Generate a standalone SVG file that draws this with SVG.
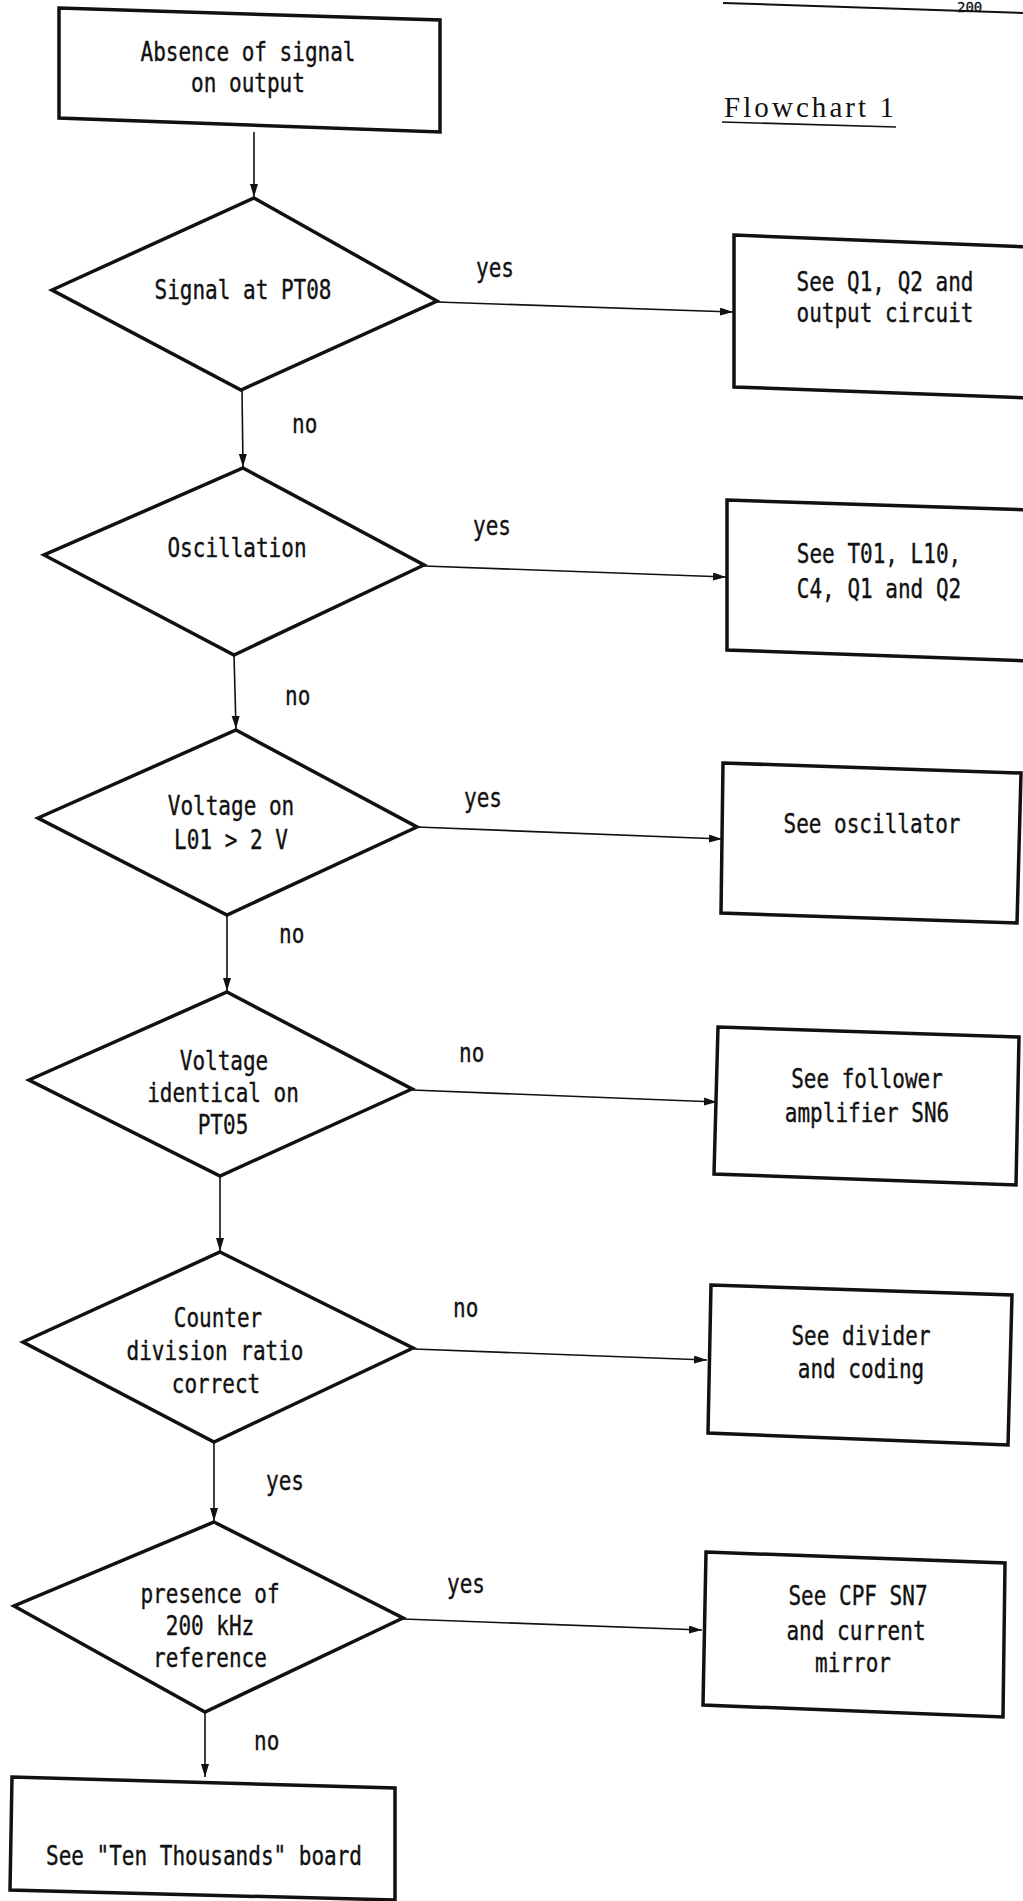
<svg xmlns="http://www.w3.org/2000/svg" width="1023" height="1901" viewBox="0 0 1023 1901">
<style>
.box{fill:none;stroke:#111;stroke-width:3.5;stroke-linejoin:miter}
.dia{fill:none;stroke:#111;stroke-width:3.5;stroke-linejoin:miter}
.con{fill:none;stroke:#111;stroke-width:1.6}
.t{font-family:"DejaVu Sans Mono","Liberation Mono",monospace;font-size:21px;fill:#111;stroke:#111;stroke-width:0.3;text-anchor:middle}
.lbl{font-family:"DejaVu Sans Mono","Liberation Mono",monospace;font-size:21px;fill:#111;stroke:#111;stroke-width:0.3}
.ttl{font-family:"Liberation Serif",serif;font-size:29px;fill:#111}
</style>
<defs>
<marker id="ah" markerUnits="userSpaceOnUse" markerWidth="14" markerHeight="10" refX="13" refY="4" orient="auto">
<path d="M0,0 L13,4 L0,8 z" fill="#111"/>
</marker>
</defs>
<rect width="1023" height="1901" fill="#fff"/>

<g id="header">
<line x1="723" y1="3" x2="1023" y2="13" stroke="#111" stroke-width="2"/>
<text class="lbl" x="957" y="12" style="font-size:14px">200</text>
</g>

<g id="title">
<text class="ttl" x="724" y="117" textLength="170" lengthAdjust="spacing">Flowchart 1</text>
<line x1="722" y1="122" x2="896" y2="127" stroke="#111" stroke-width="1.6"/>
</g>

<g id="connectors">
<line class="con" x1="254" y1="132" x2="254" y2="197" marker-end="url(#ah)"/>
<line class="con" x1="437" y1="302" x2="733" y2="312" marker-end="url(#ah)"/>
<line class="con" x1="242" y1="390" x2="243" y2="467" marker-end="url(#ah)"/>
<line class="con" x1="424" y1="566" x2="726" y2="577" marker-end="url(#ah)"/>
<line class="con" x1="234" y1="655" x2="236" y2="729" marker-end="url(#ah)"/>
<line class="con" x1="417" y1="827" x2="722" y2="839" marker-end="url(#ah)"/>
<line class="con" x1="227" y1="915" x2="227" y2="991" marker-end="url(#ah)"/>
<line class="con" x1="412" y1="1090" x2="717" y2="1102" marker-end="url(#ah)"/>
<line class="con" x1="220" y1="1176" x2="220" y2="1251" marker-end="url(#ah)"/>
<line class="con" x1="414" y1="1349" x2="707" y2="1360" marker-end="url(#ah)"/>
<line class="con" x1="214" y1="1442" x2="214" y2="1521" marker-end="url(#ah)"/>
<line class="con" x1="403" y1="1619" x2="702" y2="1630" marker-end="url(#ah)"/>
<line class="con" x1="205" y1="1712" x2="205" y2="1777" marker-end="url(#ah)"/>
<text class="lbl" transform="translate(476,277) scale(1,1.25)">yes</text>
<text class="lbl" transform="translate(292,433) scale(1,1.25)">no</text>
<text class="lbl" transform="translate(473,535) scale(1,1.25)">yes</text>
<text class="lbl" transform="translate(285,705) scale(1,1.25)">no</text>
<text class="lbl" transform="translate(464,807) scale(1,1.25)">yes</text>
<text class="lbl" transform="translate(279,943) scale(1,1.25)">no</text>
<text class="lbl" transform="translate(459,1062) scale(1,1.25)">no</text>
<text class="lbl" transform="translate(453,1317) scale(1,1.25)">no</text>
<text class="lbl" transform="translate(266,1490) scale(1,1.25)">yes</text>
<text class="lbl" transform="translate(447,1593) scale(1,1.25)">yes</text>
<text class="lbl" transform="translate(254,1750) scale(1,1.25)">no</text>
</g>

<g id="start">
<polygon class="box" points="59,8 440,20 440,132 59,118"/>
<text class="t" transform="translate(248,61) scale(1,1.25)">Absence of signal</text>
<text class="t" transform="translate(248,92) scale(1,1.25)">on output</text>
</g>

<g id="d1">
<polygon class="dia" points="254,198 437,301 241,390 52,290"/>
<text class="t" transform="translate(243,299) scale(1,1.25)">Signal at PT08</text>
</g>
<g id="b1">
<polygon class="box" points="734,235 1030,247 1030,398 734,387"/>
<text class="t" transform="translate(885,291) scale(1,1.25)">See Q1, Q2 and</text>
<text class="t" transform="translate(885,322) scale(1,1.25)">output circuit</text>
</g>

<g id="d2">
<polygon class="dia" points="243,468 424,565 234,655 44,555"/>
<text class="t" transform="translate(237,557) scale(1,1.25)">Oscillation</text>
</g>
<g id="b2">
<polygon class="box" points="727,500 1030,510 1030,661 727,650"/>
<text class="t" transform="translate(879,563) scale(1,1.25)">See T01, L10,</text>
<text class="t" transform="translate(879,598) scale(1,1.25)">C4, Q1 and Q2</text>
</g>

<g id="d3">
<polygon class="dia" points="236,730 417,827 227,915 38,818"/>
<text class="t" transform="translate(231,815) scale(1,1.25)">Voltage on</text>
<text class="t" transform="translate(231,849) scale(1,1.25)">L01 &gt; 2 V</text>
</g>
<g id="b3">
<polygon class="box" points="723,763 1021,773 1017,923 721,913"/>
<text class="t" transform="translate(872,833) scale(1,1.25)">See oscillator</text>
</g>

<g id="d4">
<polygon class="dia" points="227,992 412,1089 220,1176 29,1080"/>
<text class="t" transform="translate(224,1070) scale(1,1.25)">Voltage</text>
<text class="t" transform="translate(223,1102) scale(1,1.25)">identical on</text>
<text class="t" transform="translate(223,1134) scale(1,1.25)">PT05</text>
</g>
<g id="b4">
<polygon class="box" points="718,1027 1019,1037 1016,1185 714,1174"/>
<text class="t" transform="translate(867,1088) scale(1,1.25)">See follower</text>
<text class="t" transform="translate(867,1122) scale(1,1.25)">amplifier SN6</text>
</g>

<g id="d5">
<polygon class="dia" points="220,1252 413,1348 214,1442 23,1342"/>
<text class="t" transform="translate(218,1327) scale(1,1.25)">Counter</text>
<text class="t" transform="translate(215,1360) scale(1,1.25)">division ratio</text>
<text class="t" transform="translate(216,1393) scale(1,1.25)">correct</text>
</g>
<g id="b5">
<polygon class="box" points="711,1285 1012,1295 1008,1445 708,1433"/>
<text class="t" transform="translate(861,1345) scale(1,1.25)">See divider</text>
<text class="t" transform="translate(861,1378) scale(1,1.25)">and coding</text>
</g>

<g id="d6">
<polygon class="dia" points="214,1522 403,1618 205,1712 14,1606"/>
<text class="t" transform="translate(210,1603) scale(1,1.25)">presence of</text>
<text class="t" transform="translate(210,1635) scale(1,1.25)">200 kHz</text>
<text class="t" transform="translate(210,1667) scale(1,1.25)">reference</text>
</g>
<g id="b6">
<polygon class="box" points="706,1552 1005,1563 1003,1717 703,1705"/>
<text class="t" transform="translate(858,1605) scale(1,1.25)">See CPF SN7</text>
<text class="t" transform="translate(856,1640) scale(1,1.25)">and current</text>
<text class="t" transform="translate(853,1672) scale(1,1.25)">mirror</text>
</g>

<g id="end">
<polygon class="box" points="12,1777 395,1788 395,1900 10,1890"/>
<text class="t" transform="translate(204,1865) scale(1,1.25)">See "Ten Thousands" board</text>
</g>
</svg>
